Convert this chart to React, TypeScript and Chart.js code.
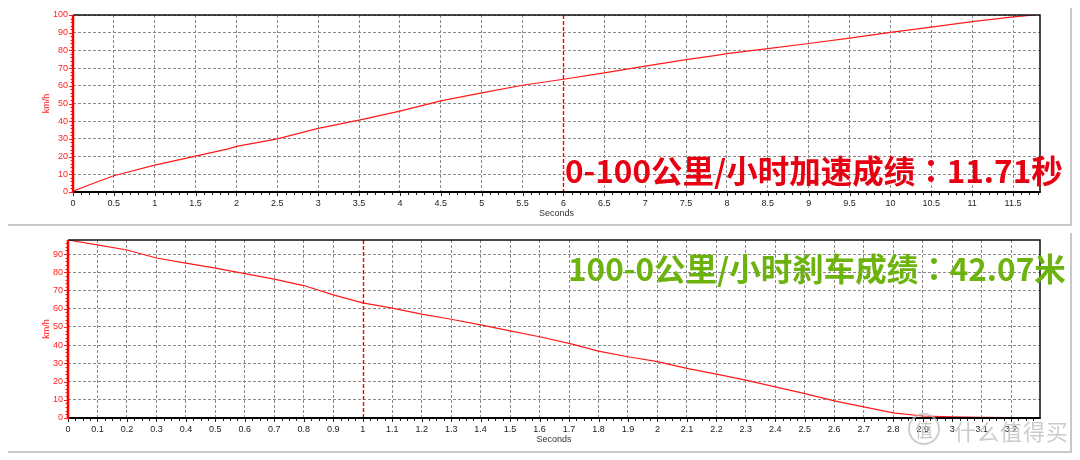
import React, { useEffect, useRef } from 'react';
import { Chart, registerables } from 'chart.js';

Chart.register(...registerables);

// ---- Data ----
const accelTime = [0, 0.3, 0.5, 1, 1.5, 1.9, 2, 2.5, 3, 3.5, 4, 4.5, 5, 5.5, 6, 6.5, 7, 7.5, 7.85, 8, 8.5, 9, 9.5, 10, 10.5, 11, 11.5, 11.77];
const accelSpeed = [0.5, 5.8, 9.2, 15.2, 20.3, 24.4, 25.8, 30, 35.9, 40.6, 45.7, 51.5, 56, 60.3, 63.7, 67.3, 71.1, 74.8, 77.1, 78.2, 81, 83.9, 86.9, 90.2, 93.2, 96.3, 98.9, 100];

const brakeTime = [0, 0.1, 0.2, 0.3, 0.4, 0.5, 0.6, 0.7, 0.8, 0.9, 1.0, 1.1, 1.2, 1.3, 1.4, 1.5, 1.6, 1.7, 1.8, 1.9, 2.0, 2.1, 2.2, 2.3, 2.4, 2.5, 2.6, 2.7, 2.8, 2.9, 3.0, 3.1, 3.2, 3.27];
const brakeSpeed = [97.7, 95, 92.2, 87.8, 85, 82.3, 79.2, 76.2, 72.7, 67.6, 63.2, 60.3, 57, 54.2, 51.1, 47.8, 44.6, 41, 36.7, 33.6, 30.9, 27.2, 24.1, 20.8, 17.1, 13.4, 9.4, 6.1, 2.8, 1.1, 0.6, 0.4, 0.2, 0];

const accelTitleA = '0-100公里/小时加速成绩';
const accelTitleB = '11.71秒';
const brakeTitleA = '100-0公里/小时刹车成绩';
const brakeTitleB = '42.07米';
const colon = '：';
const xAxisTitle = 'Seconds';
const yAxisTitle = 'km/h';

const FONT = "'Liberation Sans', Arial, sans-serif";
const RED = '#ff2020';
const GRID = '#8a8a8a';

const framePlugin = {
  id: 'frame',
  afterDatasetsDraw(chart: any, _args: any, opts: any) {
    const { ctx, chartArea, scales } = chart;
    const { top, bottom } = chartArea;
    const px = Math.round(scales.x.getPixelForValue(opts.marker)) + 0.5;
    ctx.save();
    ctx.strokeStyle = 'rgb(255,0,0)';
    ctx.lineWidth = 1.4;
    ctx.setLineDash([4, 2]);
    ctx.beginPath();
    ctx.moveTo(px, top);
    ctx.lineTo(px, bottom);
    ctx.stroke();
    ctx.restore();
  },
  afterDraw(chart: any, _args: any, opts: any) {
    const { ctx, chartArea, scales } = chart;
    const { left, right, top, bottom } = chartArea;
    const x = scales.x;
    const y = scales.y;
    ctx.save();
    ctx.setLineDash([]);
    ctx.strokeStyle = '#111';
    ctx.lineWidth = 1.5;
    ctx.beginPath();
    ctx.moveTo(left, top);
    ctx.lineTo(right, top);
    ctx.lineTo(right, bottom);
    ctx.stroke();
    ctx.lineWidth = 1;
    ctx.strokeStyle = '#222';
    const nx = Math.floor(x.max / opts.xMinor + 1e-6);
    for (let i = 0; i <= nx; i++) {
      const v = i * opts.xMinor;
      const p = Math.round(x.getPixelForValue(v)) + 0.5;
      const major = Math.abs(v / opts.xMajor - Math.round(v / opts.xMajor)) < 1e-6;
      ctx.beginPath();
      ctx.moveTo(p, bottom);
      ctx.lineTo(p, bottom + (major ? 4 : 3));
      ctx.stroke();
    }
    ctx.lineWidth = 2;
    ctx.strokeStyle = '#000';
    ctx.beginPath();
    ctx.moveTo(left, bottom);
    ctx.lineTo(right + 0.75, bottom);
    ctx.stroke();
    ctx.lineWidth = 1;
    ctx.strokeStyle = RED;
    const ny = Math.floor(y.max / 2 + 1e-6);
    for (let i = 0; i <= ny; i++) {
      const v = i * 2;
      const p = Math.round(y.getPixelForValue(v)) + 0.5;
      const major = v % 10 === 0;
      ctx.beginPath();
      ctx.moveTo(left, p);
      ctx.lineTo(left - (major ? 4 : 2.5), p);
      ctx.stroke();
    }
    ctx.lineWidth = 2.5;
    ctx.strokeStyle = '#ff0000';
    ctx.beginPath();
    ctx.moveTo(left, top);
    ctx.lineTo(left, bottom + 1);
    ctx.stroke();
    ctx.restore();
  },
};

type Props = {
  times: number[];
  speeds: number[];
  xMax: number;
  xStep: number;
  xMinor: number;
  yMax: number;
  marker: number;
  width: number;
  height: number;
  topPad: number;
  yAxisWidth: number;
  xAxisHeight: number;
  xTitlePad: number;
  yTitlePad: number;
};

function SpeedChart(p: Props) {
  const ref = useRef<HTMLCanvasElement | null>(null);
  useEffect(() => {
    if (!ref.current) return;
    const font = { family: FONT, size: 9 };
    const chart = new Chart(ref.current, {
      type: 'line',
      data: {
        datasets: [
          {
            data: p.times.map((t, i) => ({ x: t, y: p.speeds[i] })),
            borderColor: '#ff1a1a',
            borderWidth: 1.2,
            pointRadius: 0,
            tension: 0,
            fill: false,
          },
        ],
      },
      options: {
        animation: false,
        responsive: false,
        events: [],
        layout: { padding: { left: 0, right: 40, top: p.topPad, bottom: 0 } },
        plugins: {
          legend: { display: false },
          tooltip: { enabled: false },
          frame: { marker: p.marker, xMinor: p.xMinor, xMajor: p.xStep },
        } as any,
        scales: {
          x: {
            type: 'linear',
            min: 0,
            max: p.xMax,
            afterFit: (s: any) => {
              s.height = p.xAxisHeight;
            },
            ticks: {
              stepSize: p.xStep,
              includeBounds: false,
              autoSkip: false,
              maxRotation: 0,
              padding: 6,
              color: '#222',
              font,
              callback: (v: any) => String(Number(Number(v).toFixed(2))),
            },
            grid: {
              color: (c: any) =>
                c.tick && Math.abs(c.tick.value - p.marker) < 1e-6 ? 'rgba(0,0,0,0)' : GRID,
              lineWidth: 1,
              drawTicks: false,
            },
            border: { display: false, dash: [3, 2] },
            title: {
              display: true,
              text: xAxisTitle,
              color: '#333',
              font,
              padding: { top: 0, bottom: p.xTitlePad },
            },
          },
          y: {
            min: 0,
            max: p.yMax,
            afterFit: (s: any) => {
              s.width = p.yAxisWidth;
            },
            ticks: {
              stepSize: 10,
              includeBounds: false,
              padding: 5,
              color: RED,
              font,
            },
            grid: { color: GRID, lineWidth: 1, drawTicks: false },
            border: { display: false, dash: [3, 2] },
            title: {
              display: true,
              text: yAxisTitle,
              color: RED,
              font,
              padding: { top: p.yTitlePad, bottom: 0 },
            },
          },
        } as any,
      },
      plugins: [framePlugin as any],
    });
    return () => chart.destroy();
  }, []);
  return <canvas ref={ref} width={p.width} height={p.height} style={{ width: p.width, height: p.height, display: 'block' }} />;
}

const overlayStyle: React.CSSProperties = {
  position: 'absolute',
  fontFamily: "'Noto Sans CJK SC', 'Noto Sans', sans-serif",
  fontWeight: 700,
  fontSize: 31.5,
  lineHeight: '32px',
  whiteSpace: 'nowrap',
};
const colonStyle: React.CSSProperties = { fontFamily: "'Noto Sans CJK TC', 'Noto Sans CJK SC', sans-serif" };

export default function App() {
  return (
    <div style={{ position: 'absolute', left: 0, top: 0, width: 1080, height: 460, background: '#fff', overflow: 'hidden' }}>
      <div style={{ position: 'absolute', left: 0, top: 0 }}>
        <SpeedChart
          times={accelTime}
          speeds={accelSpeed}
          xMax={11.83}
          xStep={0.5}
          xMinor={0.1}
          yMax={100}
          marker={6}
          width={1080}
          height={224}
          topPad={15}
          yAxisWidth={73}
          xAxisHeight={32}
          xTitlePad={4.6}
          yTitlePad={41}
        />
      </div>
      <div style={{ position: 'absolute', left: 0, top: 226 }}>
        <SpeedChart
          times={brakeTime}
          speeds={brakeSpeed}
          xMax={3.298}
          xStep={0.1}
          xMinor={0.025}
          yMax={97.7}
          marker={1}
          width={1080}
          height={226}
          topPad={14}
          yAxisWidth={68}
          xAxisHeight={34}
          xTitlePad={6.6}
          yTitlePad={41}
        />
      </div>
      <div style={{ position: 'absolute', left: 8, top: 224, width: 1064, height: 2, background: '#c8c8c8' }} />
      <div style={{ position: 'absolute', left: 1070, top: 8, width: 2, height: 218, background: '#c8c8c8' }} />
      <div style={{ position: 'absolute', left: 1070, top: 233, width: 2, height: 220, background: '#c8c8c8' }} />
      <div style={{ position: 'absolute', left: 8, top: 451, width: 1064, height: 2, background: '#c8c8c8' }} />
      <div style={{ ...overlayStyle, left: 565, top: 153, color: '#e60012' }}>
        {accelTitleA}
        <span style={colonStyle}>{colon}</span>
        {accelTitleB}
      </div>
      <div style={{ ...overlayStyle, left: 568, top: 251, color: '#6cb30d' }}>
        {brakeTitleA}
        <span style={colonStyle}>{colon}</span>
        {brakeTitleB}
      </div>
      <div
        style={{
          position: 'absolute',
          left: 908,
          top: 413,
          width: 28,
          height: 28,
          borderRadius: '50%',
          border: '2px solid rgba(190,190,190,0.75)',
          color: 'rgba(190,190,190,0.85)',
          fontFamily: "'Noto Sans CJK SC', sans-serif",
          fontSize: 18,
          lineHeight: '28px',
          textAlign: 'center',
        }}
      >
        值
      </div>
      <div
        style={{
          position: 'absolute',
          left: 954,
          top: 416,
          color: 'rgba(195,195,195,0.85)',
          fontFamily: "'Noto Sans CJK SC', sans-serif",
          fontSize: 22,
          lineHeight: '28px',
          letterSpacing: 1,
          whiteSpace: 'nowrap',
        }}
      >
        什么值得买
      </div>
    </div>
  );
}
